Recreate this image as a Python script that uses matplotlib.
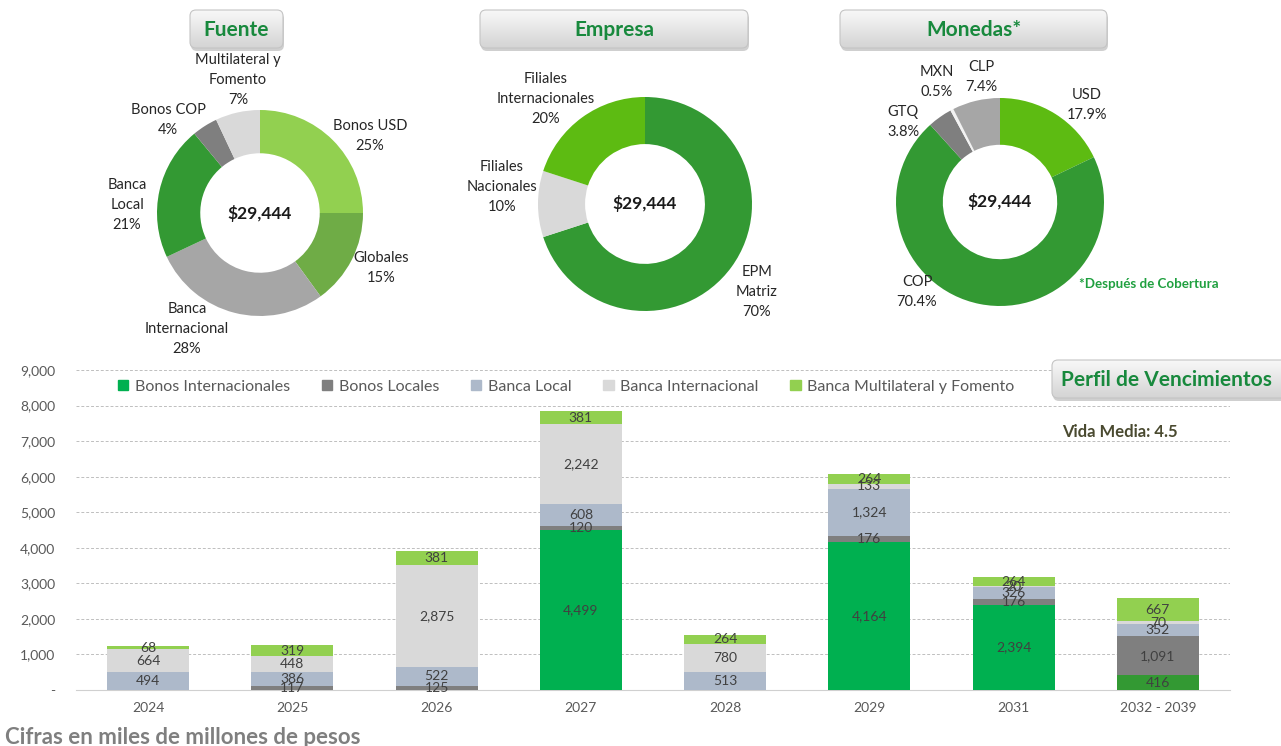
import matplotlib.pyplot as plt
import matplotlib.patches as mpatches
from matplotlib.patches import FancyBboxPatch
from matplotlib.colors import LinearSegmentedColormap
from matplotlib.ticker import FuncFormatter
import numpy as np

W, H = 1281, 746
plt.rcParams['font.family'] = ['Lato', 'DejaVu Sans']

#Datos de las donas:
totalDeuda = 29444
fuenteEtiquetas = ['Bonos USD', 'Globales', 'Banca\nInternacional', 'Banca\nLocal', 'Bonos COP', 'Multilateral y\nFomento']
fuenteValores = [25, 15, 28, 21, 4, 7]
empresaEtiquetas = ['EPM\nMatriz', 'Filiales\nNacionales', 'Filiales\nInternacionales']
empresaValores = [70, 10, 20]
monedasEtiquetas = ['USD', 'COP', 'GTQ', 'MXN', 'CLP']
monedasValores = [17.9, 70.4, 3.8, 0.5, 7.4]

#Datos del perfil de vencimientos:
anios = ['2024', '2025', '2026', '2027', '2028', '2029', '2031', '2032 - 2039']
bonosInternacionales = [0, 0, 0, 4499, 0, 4164, 2394, 416]
bonosLocales = [0, 117, 125, 120, 0, 176, 176, 1091]
bancaLocal = [494, 386, 522, 608, 513, 1324, 326, 352]
bancaInternacional = [664, 448, 2875, 2242, 780, 133, 20, 70]
bancaMultilateral = [68, 319, 381, 381, 264, 264, 264, 667]
series = ['Bonos Internacionales', 'Bonos Locales', 'Banca Local', 'Banca Internacional', 'Banca Multilateral y Fomento']
vidaMedia = 4.5

#Colores:
verdeTitulo = '#18893D'
coloresSeries = ['#00B050', '#7F7F7F', '#ADB9CA', '#D9D9D9', '#92D050']
coloresFuente = ['#92D050', '#6FAC46', '#A6A6A6', '#339933', '#7F7F7F', '#D9D9D9']
coloresEmpresa = ['#339933', '#D9D9D9', '#5DBB12']
coloresMonedas = ['#5DBB12', '#339933', '#7F7F7F', '#F2F2F2', '#A6A6A6']

fig = plt.figure(figsize=(W / 100, H / 100), dpi=100)


def ejesPx(x0, y0, x1, y1, **kw):
    return fig.add_axes([x0 / W, 1 - y1 / H, (x1 - x0) / W, (y1 - y0) / H], **kw)


#Capa para textos y cajas en pixeles
capa = ejesPx(0, 0, W, H, zorder=10)
capa.patch.set_alpha(0)
capa.axis('off')
gradiente = LinearSegmentedColormap.from_list('boton', ['#F8F8F8', '#D4D4D4'])


def cajaTitulo(x0, y0, x1, y1, texto, size=15):
    sombra = FancyBboxPatch((x0 + 1, y0 + 3), x1 - x0, y1 - y0, boxstyle='round,pad=0,rounding_size=6',
                            fc='#B0B0B0', ec='none', alpha=0.6)
    capa.add_patch(sombra)
    caja = FancyBboxPatch((x0, y0), x1 - x0, y1 - y0, boxstyle='round,pad=0,rounding_size=6',
                          fc='none', ec='#C4C4C4', lw=0.8, zorder=3)
    capa.add_patch(caja)
    img = np.linspace(0, 1, 60).reshape(-1, 1)
    im = capa.imshow(img, cmap=gradiente, extent=(x0, x1, y1, y0), aspect='auto', zorder=2)
    im.set_clip_path(caja)
    capa.text((x0 + min(x1, W)) / 2, (y0 + y1) / 2 + 1, texto, ha='center', va='center',
              fontsize=size, weight='bold', color=verdeTitulo, zorder=4)


def dona(cx, cy, R, valores, colores, ancho):
    half = R * 1.1
    ax = ejesPx(cx - half, cy - half, cx + half, cy + half)
    ax.pie(valores, colors=colores, startangle=90, counterclock=False, radius=1,
           wedgeprops=dict(width=ancho, linewidth=0))
    ax.set_xlim(-half / R, half / R)
    ax.set_ylim(-half / R, half / R)
    ax.set_aspect('equal')
    ax.axis('off')
    capa.text(cx, cy, '${:,}'.format(totalDeuda), ha='center', va='center',
              fontsize=12.5, weight='bold', color='#1A1A1A')
    return ax


def etiquetas(textos, valores, posiciones, fmt):
    for t, v, (x, y) in zip(textos, valores, posiciones):
        capa.text(x, y, t + '\n' + fmt % v, ha='center', va='center', fontsize=10.5,
                  color='#262626', linespacing=1.55)


#Dona Fuente
dona(260, 213, 103, fuenteValores, coloresFuente, 0.42)
etiquetas(fuenteEtiquetas, fuenteValores,
          [(370, 136), (381, 268), (187, 329), (127, 205), (168, 120), (238, 80)], '%d%%')
cajaTitulo(190, 10, 283, 48, 'Fuente')

#Dona Empresa
dona(645, 204, 107, empresaValores, coloresEmpresa, 0.44)
etiquetas(empresaEtiquetas, empresaValores, [(757, 292), (502, 187), (546, 99)], '%d%%')
cajaTitulo(480, 10, 748, 48, 'Empresa')

#Dona Monedas
dona(1000, 202, 104, monedasValores, coloresMonedas, 0.45)
etiquetas(monedasEtiquetas, monedasValores,
          [(1087, 105), (917, 292), (903, 122), (937, 82), (981, 77)], '%.1f%%')
cajaTitulo(840, 10, 1107, 48, 'Monedas*')
capa.text(1149, 284, '*Después de Cobertura', ha='center', va='center', fontsize=9.6,
          weight='bold', color='#1FA03F')

#Grafica de barras apiladas
ax = ejesPx(76, 370, 1230, 690)
x = np.arange(len(anios))
datos = [bonosInternacionales, bonosLocales, bancaLocal, bancaInternacional, bancaMultilateral]
base = np.zeros(len(anios))
for k, (serie, col) in enumerate(zip(datos, coloresSeries)):
    cols = [col] * len(anios)
    if k == 0:
        cols[-1] = '#339933'   # el ultimo tramo va en otro verde
    ax.bar(x, serie, bottom=base, width=0.57, color=cols, linewidth=0, zorder=3)
    for i, v in enumerate(serie):
        if v > 0:
            ax.text(i, base[i] + v / 2, '{:,}'.format(v), ha='center', va='center',
                    fontsize=10, color='#404040', zorder=4)
    base = base + np.array(serie)

ax.set_xlim(-0.5, len(anios) - 0.5)
ax.set_ylim(0, 9000)
ax.set_yticks(range(0, 9001, 1000))
ax.yaxis.set_major_formatter(FuncFormatter(lambda v, p: '-' if v == 0 else '{:,.0f}'.format(v)))
ax.set_xticks(x)
ax.set_xticklabels(anios)
ax.tick_params(length=0, labelsize=10, labelcolor='#595959')
ax.tick_params(axis='y', pad=15)
ax.tick_params(axis='x', pad=9)
ax.grid(axis='y', color='#BFBFBF', linestyle=(0, (3, 2)), linewidth=0.7, zorder=0)
for s in ['top', 'right', 'left']:
    ax.spines[s].set_visible(False)
ax.spines['bottom'].set_color('#D0D0D0')
ax.set_axisbelow(True)

handles = [mpatches.Patch(color=c) for c in coloresSeries]
ax.legend(handles, series, loc='upper left', bbox_to_anchor=(0.024, 1.015), ncol=5, frameon=False,
          fontsize=11.5, handlelength=0.65, handleheight=0.65, handletextpad=0.4, columnspacing=2.0,
          labelcolor='#595959')

ax.text(1120, 432, 'Vida Media: %.1f' % vidaMedia, transform=capa.transData, ha='center',
        va='center', fontsize=12, weight='bold', color='#4A4A30')
cajaTitulo(1052, 360, 1292, 398, 'Perfil de Vencimientos')

capa.text(5, 737, 'Cifras en miles de millones de pesos', ha='left', va='center', fontsize=16,
          weight='bold', color='#7F7F7F')

capa.set_xlim(0, W)
capa.set_ylim(H, 0)

fig.savefig('out.png', dpi=100)
